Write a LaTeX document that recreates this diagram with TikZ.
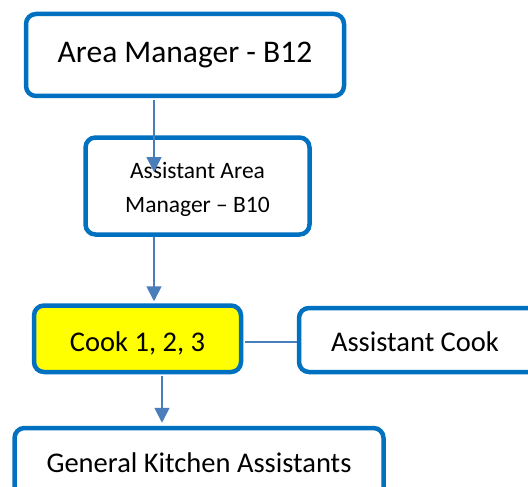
\documentclass[tikz,border=0pt]{standalone}
\usepackage{fontspec}
\setmainfont{Carlito}
\usetikzlibrary{arrows.meta}
\definecolor{boxblue}{HTML}{0070C0}
\definecolor{arrblue}{HTML}{4A7EBB}
\definecolor{cookyellow}{HTML}{FFFF00}
\begin{document}
\begin{tikzpicture}[x=1pt,y=-1pt,
  box/.style={draw=boxblue, line width=4.5pt, rounded corners=10pt, fill=white,
    inner sep=0pt, align=center, text=black},
  big/.style={font=\fontsize{28.5}{34}\selectfont},
  arr/.style={draw=arrblue, line width=1.8pt, -{Triangle[width=15pt,length=15pt]}},
  link/.style={draw=arrblue, line width=1.8pt}]
\useasboundingbox (0,0) rectangle (528,487);
\clip (0,0) rectangle (528,487);
\node[box, minimum width=318pt, minimum height=82pt, font=\fontsize{31.5}{37}\selectfont]
  (am) at (185,55) {Area Manager - B12};
\node[box, minimum width=224pt, minimum height=97pt] (aam) at (197.5,186) {};
\node[anchor=base, inner sep=0pt, align=center, font=\fontsize{23.5}{34}\selectfont]
  (aamtext) at (197.5,212) {Assistant Area\\Manager – B10};
\node[box, fill=cookyellow, minimum width=207pt, minimum height=66.5pt] (cook) at (137.5,338.75) {};
\node[anchor=base, inner sep=0pt, big] (cooktext) at (137.5,351) {Cook 1, 2, 3};
\node[box, minimum width=260pt, minimum height=64pt] (ac) at (429,340) {};
\node[big, inner sep=0pt] (actext) at (415,342) {Assistant Cook};
\node[box, minimum width=369pt, minimum height=70pt, big]
  (gka) at (199,463) {General Kitchen Assistants};
\coordinate (t1) at (154,172);
\coordinate (l2) at (154,0);
\coordinate (l3) at (162,0);
\coordinate (cy) at (0,342);
\draw[arr] (am.south -| t1) ++(0,2) -- (t1);
\draw[arr, shorten >=2pt] (aam.south -| l2) -- (cook.north -| l2);
\draw[arr, shorten >=3pt] (cook.south -| l3) ++(0,2) -- (gka.north -| l3);
\draw[link] (cook.east |- cy) ++(2,0) -- (ac.west |- cy);
\end{tikzpicture}
\end{document}
